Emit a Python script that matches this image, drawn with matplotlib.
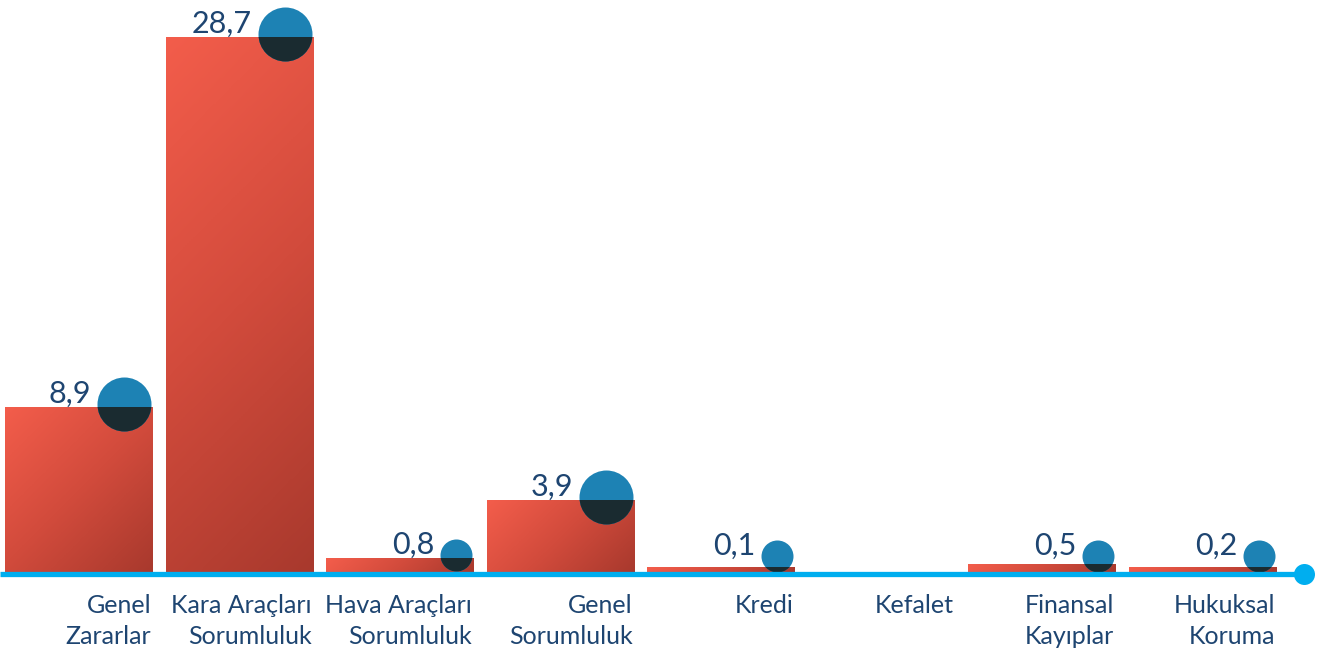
import numpy as np
import matplotlib
matplotlib.use("Agg")
import matplotlib.pyplot as plt
from matplotlib.patches import Rectangle
from matplotlib.colors import LinearSegmentedColormap

plt.rcParams['font.family'] = ['Lato', 'DejaVu Sans']

# ---- data ----
categories = ["Genel\nZararlar", "Kara Araçları\nSorumluluk", "Hava Araçları\nSorumluluk",
              "Genel\nSorumluluk", "Kredi", "Kefalet", "Finansal\nKayıplar", "Hukuksal\nKoruma"]
values = [8.9, 28.7, 0.8, 3.9, 0.1, 0.0, 0.5, 0.2]

# ---- style ----
W, H, DPI = 1330, 651, 100
TEXT_C = "#1e4571"
LINE_C = "#00aeef"
CIRC_C = "#1d82b4"
DARK_C = "#1a2b30"
cmap = LinearSegmentedColormap.from_list("bar", ["#f35d4b", "#d24b3c", "#a8392d"])
bar_w = 0.9155
MIN_BAR_PX = 6

fig = plt.figure(figsize=(W / DPI, H / DPI), dpi=DPI)
ax = fig.add_axes([0, 0, 1, 1])
ax.set_xlim(-0.4889, 7.794)
ax.set_ylim(-4.18, 30.67)
ax.axis("off")

px_x = W / (ax.get_xlim()[1] - ax.get_xlim()[0])   # pixels per x unit
px_y = H / (ax.get_ylim()[1] - ax.get_ylim()[0])   # pixels per y unit

for i, (cat, v) in enumerate(zip(categories, values)):
    x0, x1 = i - bar_w / 2, i + bar_w / 2
    # category label
    ax.text(x1 - 1 / px_x, -21 / px_y, cat, ha="right", va="top", fontsize=18,
            color=TEXT_C, linespacing=1.45, multialignment="right")
    if v <= 0:
        continue
    # gradient bar (with a minimum visible height)
    hv = max(v, MIN_BAR_PX / px_y)
    wpx, hpx = bar_w * px_x, hv * px_y
    nx, ny = 80, max(int(hpx / 2), 4)
    gx = np.linspace(0, wpx, nx)[None, :]
    gy = np.linspace(0, hpx, ny)[:, None]
    grad = (gx + gy) / (wpx + hpx)
    rect = Rectangle((x0, 0), bar_w, hv, transform=ax.transData, facecolor="none", edgecolor="none")
    ax.add_patch(rect)
    im = ax.imshow(grad, cmap=cmap, vmin=0, vmax=1, extent=[x0, x1, 0, hv],
                   origin="upper", aspect="auto", interpolation="bilinear", zorder=2)
    im.set_clip_path(rect)
    # circle marker
    r_px = 27 if v >= 3 else 16
    cx = x1 - (r_px + 1) / px_x
    cy = max(hv * px_y + 3, r_px + 1) / px_y
    r_pt = r_px * 72 / DPI
    ax.scatter([cx], [cy], s=(2 * r_pt) ** 2, color=CIRC_C, linewidths=0, zorder=3)
    dark = ax.scatter([cx], [cy], s=(2 * r_pt) ** 2, color=DARK_C, linewidths=0, zorder=4)
    dark.set_clip_path(rect)
    # value label
    ax.text(cx - (r_px + 6) / px_x, cy + 1 / px_y, f"{v:.1f}".replace(".", ","),
            ha="right", va="baseline", fontsize=22, color=TEXT_C, zorder=5)

# baseline axis line with end dot
x_end = (1303.5 / px_x) + ax.get_xlim()[0]
y_line = -1.5 / px_y
ax.plot([ax.get_xlim()[0], x_end], [y_line, y_line], color=LINE_C, lw=3.8,
        solid_capstyle="butt", zorder=6)
ax.scatter([x_end], [y_line], s=(2 * 10.5 * 72 / DPI) ** 2, color=LINE_C, linewidths=0, zorder=6)

fig.savefig("out.png", dpi=DPI)
